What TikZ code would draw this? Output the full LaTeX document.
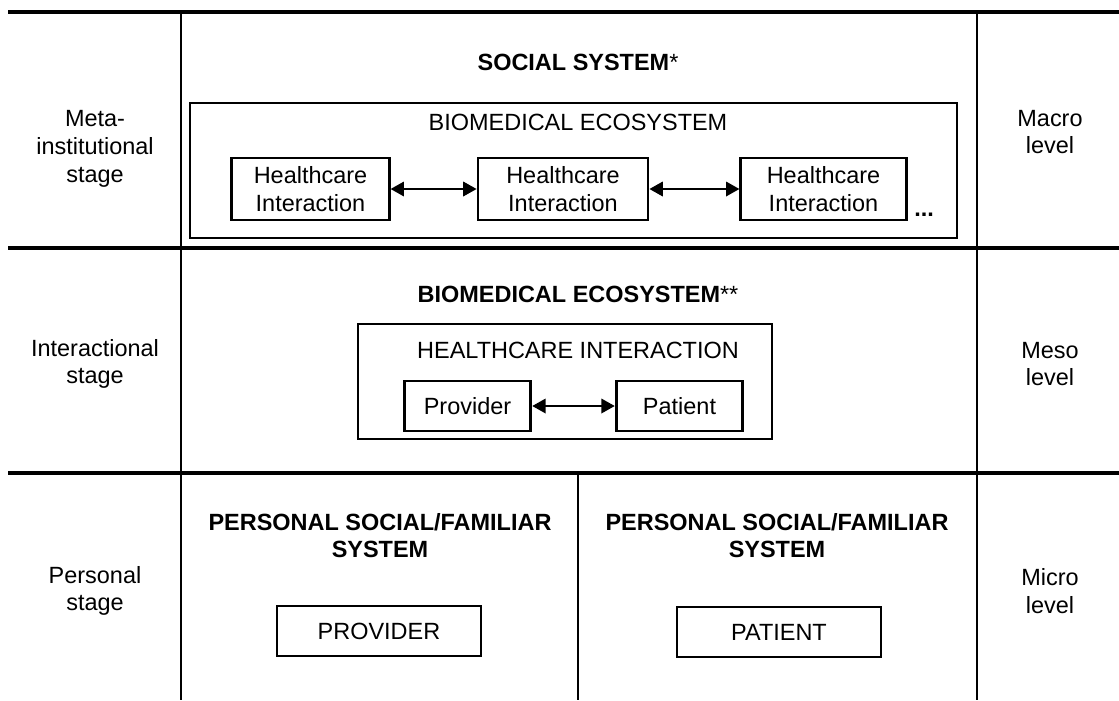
\documentclass[tikz,border=0pt]{standalone}
\usepackage{fontspec}
\setmainfont{Liberation Sans}
\usetikzlibrary{arrows.meta,positioning}

\begin{document}
\begin{tikzpicture}[x=0.75pt,y=-0.75pt,
      font=\fontsize{17.6}{20.8}\selectfont,
      rowline/.style={line width=3.6pt},
      colline/.style={line width=1.2pt},
      frame/.style={draw,line width=2.2pt},
      label/.style={align=center,inner sep=0pt},
      heading/.style={align=center,inner sep=0pt,font=\fontsize{17.6}{20.4}\selectfont\bfseries},
      box/.style={
         draw,
         line width=2.2pt,
         align=center,
         inner sep=0pt,
         minimum height=46.5pt
      },
      smallbox/.style={box,minimum height=37.5pt},
      link/.style={{Triangle[length=10pt,width=11pt]}-{Triangle[length=10pt,width=11pt]},line width=1pt}
    ]
    \useasboundingbox (0,0) rectangle (1119,700);

    % grid of stages and levels
    \draw[rowline] (8,12) -- (1119,12);
    \draw[rowline] (8,248) -- (1119,248);
    \draw[rowline] (8,473) -- (1119,473);
    \draw[colline] (181,12) -- (181,700);
    \draw[colline] (977,12) -- (977,700);
    \draw[colline] (578,473) -- (578,700);

    \node (meta)  [label] at (95,149) {Meta-\\institutional\\stage};
    \node (inter) [label] at (95,364) {Interactional\\stage};
    \node (pers)  [label] at (95,591) {Personal\\stage};
    \node (macro) [label] at (1050,132) {Macro\\level};
    \node (meso)  [label] at (1050,364) {Meso\\level};
    \node (micro) [label] at (1050,591) {Micro\\level};

    % macro level
    \node (social) [heading] at (578,62) {SOCIAL SYSTEM\textmd{*}};
    \draw[frame] (190,103) rectangle (957,238);
    \node (ecoA) [label] at (578,122) {BIOMEDICAL ECOSYSTEM};
    \node (hc1) [box, minimum width=118pt] at (310.5,189) {Healthcare\\Interaction};
    \node (hc2) [box, minimum width=127.5pt] at (563,189) {Healthcare\\Interaction};
    \node (hc3) [box, minimum width=124pt] at (823.5,189) {Healthcare\\Interaction};
    \node (more) [label, anchor=base west] at (914,216) {\textbf{...}};
    \draw[link] (hc1) -- (hc2);
    \draw[link] (hc2) -- (hc3);

    % meso level
    \node (ecoB) [heading] at (578,294) {BIOMEDICAL ECOSYSTEM\textmd{**}};
    \draw[frame] (358,324) rectangle (772,439);
    \node (hci) [label] at (578,350) {HEALTHCARE INTERACTION};
    \node (prov) [smallbox, minimum width=95pt] at (467.5,406) {Provider};
    \node (pat)  [smallbox, minimum width=95pt] at (679.5,406) {Patient};
    \draw[link] (prov) -- (pat);

    % micro level
    \node (famA) [heading] at (380,536) {PERSONAL SOCIAL/FAMILIAR\\SYSTEM};
    \node (famB) [heading] at (777,536) {PERSONAL SOCIAL/FAMILIAR\\SYSTEM};
    \node (provider) [smallbox, minimum width=153pt] at (379,631) {PROVIDER};
    \node (patient)  [smallbox, minimum width=153pt] at (779,632) {PATIENT};
\end{tikzpicture}
\end{document}
